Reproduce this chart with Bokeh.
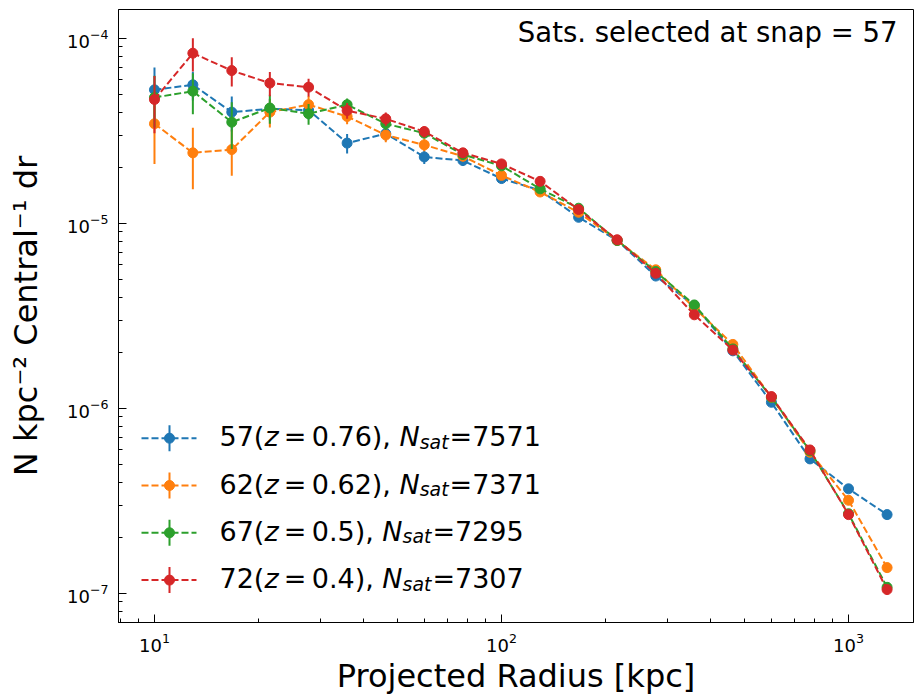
import math
from bokeh.plotting import figure
from bokeh.models import Label, FixedTicker, LogTickFormatter, Range1d
from bokeh.embed import file_html
from bokeh.resources import INLINE

# ---------------- data ----------------
radius = [10.0, 12.9, 16.7, 21.5, 27.8, 35.9, 46.4, 59.9, 77.4, 100.0,
          129.2, 166.8, 215.4, 278.3, 359.4, 464.2, 599.5, 774.3, 1000.0, 1291.5]

snap_labels = ["57", "62", "67", "72"]
z_labels = ["0.76", "0.62", "0.5", "0.4"]
nsat_labels = ["7571", "7371", "7295", "7307"]

dens_57 = [5.28e-5, 5.62e-5, 4.0e-5, 4.17e-5, 4.1e-5, 2.72e-5, 3.06e-5, 2.29e-5, 2.19e-5, 1.75e-5,
           1.51e-5, 1.08e-5, 8.1e-6, 5.2e-6, 3.6e-6, 2.05e-6, 1.08e-6, 5.34e-7, 3.68e-7, 2.67e-7]
err_57 = [1.7e-5, 1.0e-5, 8.6e-6, 5.5e-6, 4.5e-6, 3.3e-6, 2.6e-6, 1.9e-6, 1.4e-6, 1.0e-6,
          7e-7, 4.5e-7, 2.8e-7, 1.7e-7, 1.0e-7, 6e-8, 3.5e-8, 1.8e-8, 1.2e-8, 8e-9]

dens_62 = [3.46e-5, 2.41e-5, 2.51e-5, 4.0e-5, 4.39e-5, 3.79e-5, 3.01e-5, 2.66e-5, 2.31e-5, 1.82e-5,
           1.48e-5, 1.15e-5, 8.1e-6, 5.62e-6, 3.5e-6, 2.22e-6, 1.15e-6, 5.8e-7, 3.19e-7, 1.38e-7]
err_62 = [1.36e-5, 8.8e-6, 7.0e-6, 7.0e-6, 5.0e-6, 3.5e-6, 2.6e-6, 2.0e-6, 1.4e-6, 1.0e-6,
          7e-7, 4.5e-7, 2.8e-7, 1.7e-7, 1.0e-7, 6e-8, 3.5e-8, 1.8e-8, 1.1e-8, 6e-9]

dens_67 = [4.8e-5, 5.19e-5, 3.53e-5, 4.21e-5, 3.92e-5, 4.39e-5, 3.46e-5, 3.08e-5, 2.36e-5, 2.05e-5,
           1.54e-5, 1.21e-5, 8.1e-6, 5.5e-6, 3.63e-6, 2.1e-6, 1.15e-6, 5.9e-7, 2.7e-7, 1.08e-7]
err_67 = [1.5e-5, 1.3e-5, 1.0e-5, 7.5e-6, 5.0e-6, 3.5e-6, 2.6e-6, 2.0e-6, 1.4e-6, 1.0e-6,
          7e-7, 4.5e-7, 2.8e-7, 1.7e-7, 1.0e-7, 6e-8, 3.5e-8, 1.8e-8, 1.0e-8, 5e-9]

dens_72 = [4.68e-5, 8.33e-5, 6.71e-5, 5.74e-5, 5.46e-5, 4.08e-5, 3.68e-5, 3.14e-5, 2.41e-5, 2.1e-5,
           1.69e-5, 1.19e-5, 8.17e-6, 5.38e-6, 3.21e-6, 2.07e-6, 1.16e-6, 5.97e-7, 2.67e-7, 1.05e-7]
err_72 = [1.6e-5, 1.7e-5, 1.2e-5, 8.6e-6, 6.0e-6, 4.0e-6, 3.0e-6, 2.2e-6, 1.5e-6, 1.1e-6,
          7.5e-7, 4.8e-7, 3e-7, 1.8e-7, 1.0e-7, 6e-8, 3.5e-8, 1.8e-8, 1.0e-8, 5e-9]

x_major_ticks = [10, 100, 1000]
y_major_ticks = [1e-7, 1e-6, 1e-5, 1e-4]

title_text = "Sats. selected at snap = 57"
x_label = "Projected Radius [kpc]"
y_label = "N kpc\u207b\u00b2 Central\u207b\u00b9 dr"

# ---------------- styling / layout ----------------
colors = ["#1f77b4", "#ff7f0e", "#2ca02c", "#d62728"]
series = [(dens_57, err_57), (dens_62, err_62), (dens_67, err_67), (dens_72, err_72)]
FONT = "DejaVu Sans"

W, H = 915, 695
L, R, T, B = 118, 913, 9, 622
X0, X1 = 7.876, 1539.0
Y0, Y1 = 6.97e-8, 1.435e-4
lx0, lx1 = math.log10(X0), math.log10(X1)
ly0, ly1 = math.log10(Y0), math.log10(Y1)


def dx(px):
    return 10 ** (lx0 + (px - L) / (R - L) * (lx1 - lx0))


def dy(py):
    return 10 ** (ly1 - (py - T) / (B - T) * (ly1 - ly0))


p = figure(frame_width=R - L, frame_height=B - T,
           x_axis_type="log", y_axis_type="log",
           x_range=Range1d(X0, X1), y_range=Range1d(Y0, Y1),
           output_backend="svg", toolbar_location=None,
           min_border_left=L, min_border_right=W - R,
           min_border_top=T, min_border_bottom=H - B)
p.background_fill_color = "white"
p.border_fill_color = "white"
p.outline_line_color = "black"
p.outline_line_alpha = 1.0
p.outline_line_width = 1
p.xgrid.visible = False
p.ygrid.visible = False

x_minor = [m * 10 ** e for e in range(0, 4) for m in range(2, 10)]
y_minor = [m * 10.0 ** e for e in range(-8, -3) for m in range(2, 10)]
p.xaxis.ticker = FixedTicker(ticks=x_major_ticks, minor_ticks=x_minor)
p.yaxis.ticker = FixedTicker(ticks=y_major_ticks, minor_ticks=y_minor)
p.xaxis.formatter = LogTickFormatter()
p.yaxis.formatter = LogTickFormatter()

for ax in (p.xaxis[0], p.yaxis[0]):
    ax.major_tick_in = 8
    ax.major_tick_out = 0
    ax.minor_tick_in = 4
    ax.minor_tick_out = 0
    ax.axis_line_color = "black"
    ax.major_tick_line_color = "black"
    ax.minor_tick_line_color = "black"
    ax.major_label_text_font = FONT
    ax.major_label_text_font_size = "18px"
    ax.major_label_text_color = "black"
    ax.axis_label_text_font = FONT
    ax.axis_label_text_font_size = "32px"
    ax.axis_label_text_font_style = "normal"
    ax.axis_label_text_color = "black"

p.xaxis.axis_label = x_label
p.yaxis.axis_label = y_label
p.xaxis.major_label_standoff = 10
p.yaxis.major_label_standoff = 10
p.xaxis.axis_label_standoff = 2
p.yaxis.axis_label_standoff = 19

# ---------------- data marks ----------------
for (vals, errs), c in zip(series, colors):
    lo = [v - e for v, e in zip(vals, errs)]
    hi = [v + e for v, e in zip(vals, errs)]
    p.segment(x0=radius, y0=lo, x1=radius, y1=hi, line_color=c, line_width=2)
    p.line(radius, vals, line_color=c, line_width=2, line_dash="7 3")
    p.scatter(radius, vals, size=10, fill_color=c, line_color=c)

# ---------------- legend (drawn by hand for the math text) ----------------
ADV = {"0": 1303, "1": 1303, "2": 1303, "3": 1303, "4": 1303, "5": 1303, "6": 1303,
       "7": 1303, "8": 1303, "9": 1303, "(": 799, ")": 799, ",": 651, ".": 651,
       " ": 651, "=": 1716, "s": 1067, "a": 1255, "t": 803, "z": 1075, "N": 1532}


def tw(s, size):
    return sum(ADV.get(ch, 1200) for ch in s) / 2048.0 * size


F = 27
FS = F * 0.7
SP = 0.195 * F
SHIFT = -10.5


def add_text(text, px, py, size, italic=False, align="left"):
    p.add_layout(Label(x=dx(px), y=dy(py + SHIFT), text=text, text_font=FONT,
                       text_font_size=f"{size:.1f}px",
                       text_font_style="italic" if italic else "normal",
                       text_align=align, text_baseline="alphabetic",
                       text_color="black"))


for i, c in enumerate(colors):
    yc = 437.7 + i * 47.3
    p.line([dx(141), dx(196)], [dy(yc), dy(yc)], line_color=c, line_width=2, line_dash="7 3")
    p.segment(x0=[dx(169)], y0=[dy(yc + 13)], x1=[dx(169)], y1=[dy(yc - 13)],
              line_color=c, line_width=2)
    p.scatter([dx(169)], [dy(yc)], size=10, fill_color=c, line_color=c)

    base = yc + 9
    x = 219.0
    t1 = snap_labels[i] + "("
    add_text(t1, x, base, F)
    x += tw(t1, F)
    add_text("z", x, base, F, italic=True)
    x += tw("z", F) + SP
    add_text("=", x, base, F)
    x += tw("=", F) + SP
    t2 = z_labels[i] + "), "
    add_text(t2, x, base, F)
    x += tw(t2, F)
    add_text("N", x, base, F, italic=True)
    x += tw("N", F)
    add_text("sat", x, base + 5, FS, italic=True)
    x += tw("sat", FS)
    add_text("=" + nsat_labels[i], x + 1, base, F)

add_text(title_text, 897, 41.7, 27.5, align="right")

open("out.html", "w").write(file_html(p, INLINE))
